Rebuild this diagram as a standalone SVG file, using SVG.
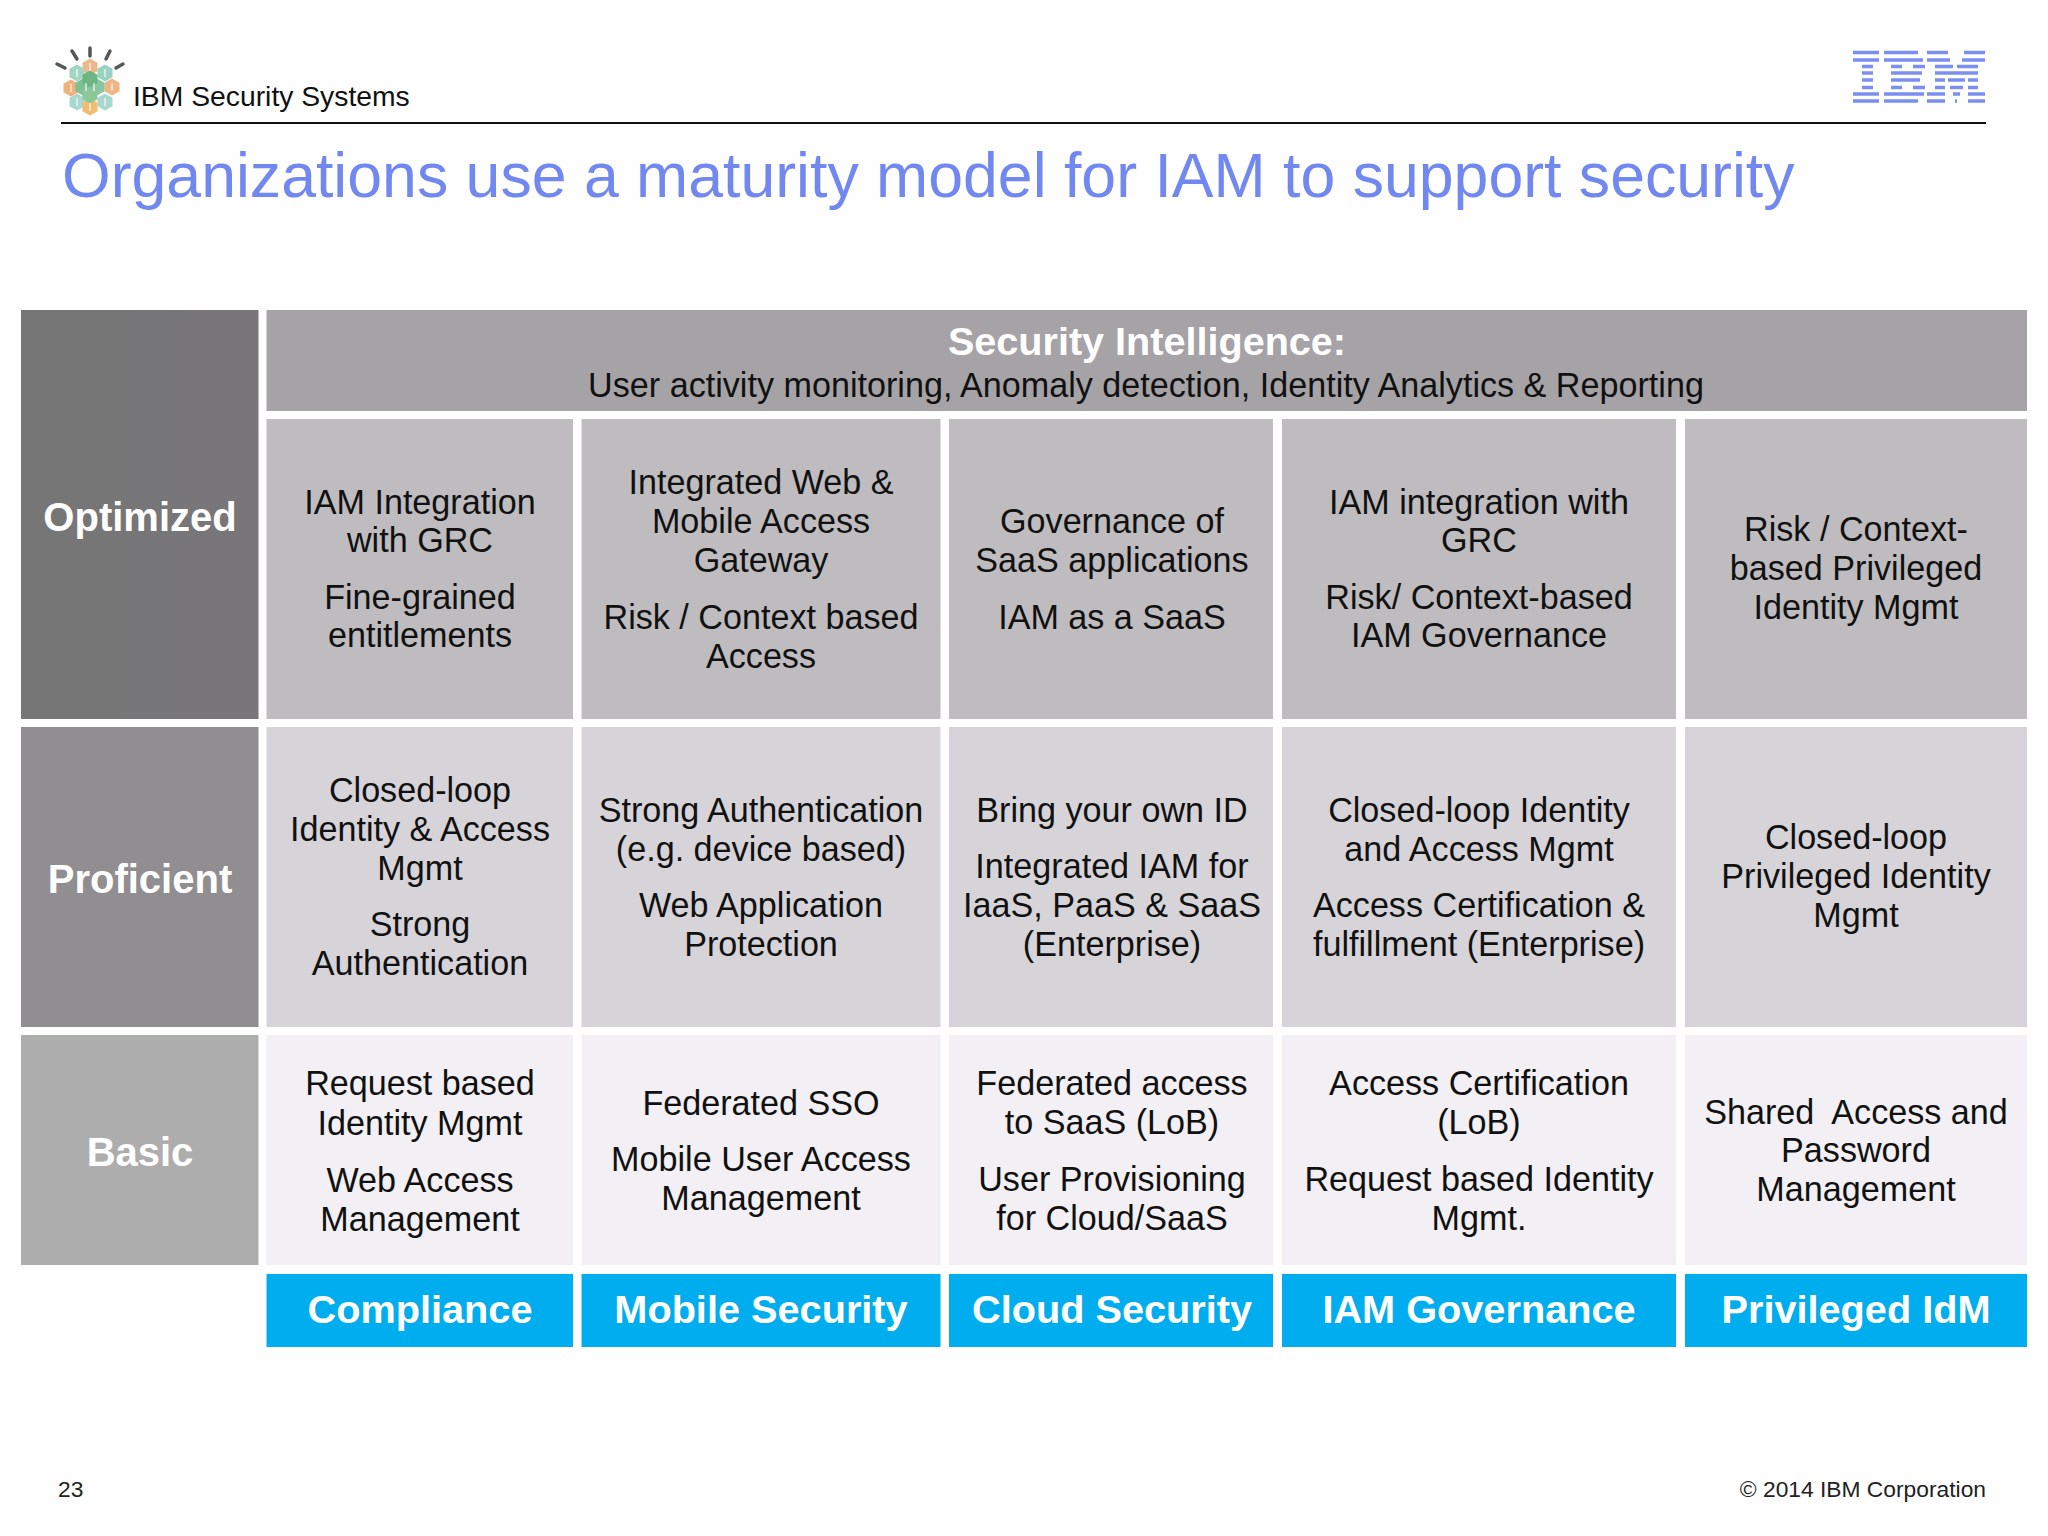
<svg xmlns="http://www.w3.org/2000/svg" width="2048" height="1536" viewBox="0 0 2048 1536">
<style>
text{font-family:"Liberation Sans",Arial,sans-serif;text-anchor:middle;fill:#111}
.t{font-size:34.150px;transform:translateY(-1px)}
.lab{font-size:40px;font-weight:bold;fill:#fff}
.foot{font-size:39.700px;font-weight:bold;fill:#fff}
.r1{fill:#bebcbf}.r2{fill:#d6d4d8}.r3{fill:#f2f0f4}.b{fill:#00aeef}
.small{font-size:22.800px;fill:#222}
</style>
<defs>
<filter id="soft" x="-10%" y="-10%" width="120%" height="120%"><feGaussianBlur stdDeviation="0.7"/></filter>
<linearGradient id="g1" x1="0" y1="0" x2="1" y2="0"><stop offset="0" stop-color="#767676"/><stop offset="1" stop-color="#787679"/></linearGradient>
<polygon id="hex" points="0,-8.500 7.500,-4.300 7.500,4.300 0,8.500 -7.500,4.300 -7.500,-4.300"/>
</defs>
<rect width="2048" height="1536" fill="#fefefe"/>
<g id="header">
<g id="security-logo" filter="url(#soft)">
<g stroke="#55585a" stroke-width="3.500" stroke-linecap="round">
<path d="M90 48V56M72 51L77 59M110 51L106 59M57 64L65 68M123 64L116 68"/>
</g>
<use href="#hex" x="90" y="67" fill="#eeb98a"/>
<use href="#hex" x="77" y="73" fill="#a3d6c2"/>
<use href="#hex" x="105" y="73" fill="#98d2c2"/>
<use href="#hex" x="71" y="88" fill="#efb27a"/>
<use href="#hex" x="112" y="87" fill="#efb583"/>
<use href="#hex" x="77" y="102" fill="#a8d8d0"/>
<use href="#hex" x="105" y="102" fill="#a8d8d0"/>
<use href="#hex" x="90" y="107" fill="#f2bc70"/>
<use href="#hex" x="83" y="87" fill="#7cc096"/>
<use href="#hex" x="97" y="87" fill="#86c6a0"/>
<use href="#hex" x="90" y="79" fill="#6cb684"/>
<use href="#hex" x="90" y="95" fill="#8cc79a"/>
<path d="M90 63v8M77 69v8M105 69v8M71 84v8M112 83v8M77 98v8M105 98v8M90 103v8M86 83v8M94 83v8" stroke="#fff" stroke-opacity=".55" stroke-width="2" fill="none"/>
</g>
<text x="133" y="106" font-size="28.300" style="text-anchor:start">IBM Security Systems</text>
<path d="M1853 52.500H1879M1884 52.500H1918M1927 52.500H1948M1964 52.500H1985M1853 60H1879M1884 60H1923M1927 60H1950M1962 60H1985M1862 66.500H1873M1891 66.500H1902M1913 66.500H1925M1935 66.500H1953M1957 66.500H1978M1862 73H1873M1891 73H1922M1935 73H1978M1862 80H1873M1891 80H1920M1935 80H1945M1948 80H1965M1968 80H1978M1862 87.500H1873M1891 87.500H1902M1913 87.500H1925M1935 87.500H1945M1950 87.500H1963M1968 87.500H1978M1853 94H1879M1884 94H1924M1927 94H1945M1953 94H1960M1968 94H1985M1853 101H1879M1884 101H1918M1927 101H1945M1955 101H1957M1968 101H1985" stroke="#7b8ff0" stroke-width="3.500" fill="none" filter="url(#soft)" id="ibm-logo"/>
<path d="M61 123H1986" stroke="#111" stroke-width="2"/>
<text x="62" y="197" font-size="62.600" style="text-anchor:start;fill:#7188f0">Organizations use a maturity model for IAM to support security</text>
</g>
<g id="row-optimized"><rect x="21" y="310" width="237.500" height="409" fill="url(#g1)"/><text class="lab" x="140" y="531">Optimized</text></g>
<g id="row-proficient"><rect x="21" y="727" width="237.500" height="300" fill="#908e90"/><text class="lab" x="140" y="893">Proficient</text></g>
<g id="row-basic"><rect x="21" y="1035" width="237.500" height="230" fill="#adadad"/><text class="lab" x="140" y="1166">Basic</text></g>
<g id="security-intelligence"><rect x="266.500" y="310" width="1760.500" height="101" fill="#a5a3a6"/>
<text x="1147" y="355" font-size="39.600" font-weight="bold" style="fill:#fff">Security Intelligence:</text>
<text class="t" x="1146" y="398">User activity monitoring, Anomaly detection, Identity Analytics &amp; Reporting</text></g>

<g id="c1-optimized"><rect class="r1" x="266.500" y="419" width="306.500" height="300"/>
<text class="t" x="420" y="515">IAM Integration</text><text class="t" x="420" y="553">with GRC</text><text class="t" x="420" y="610">Fine-grained</text><text class="t" x="420" y="648">entitlements</text></g>
<g id="c2-optimized"><rect class="r1" x="581.500" y="419" width="359" height="300"/>
<text class="t" x="761" y="495">Integrated Web &amp;</text><text class="t" x="761" y="534">Mobile Access</text><text class="t" x="761" y="573">Gateway</text><text class="t" x="761" y="630">Risk / Context based</text><text class="t" x="761" y="669">Access</text></g>
<g id="c3-optimized"><rect class="r1" x="949" y="419" width="324" height="300"/>
<text class="t" x="1112" y="534">Governance of</text><text class="t" x="1112" y="573">SaaS applications</text><text class="t" x="1112" y="630">IAM as a SaaS</text></g>
<g id="c4-optimized"><rect class="r1" x="1282" y="419" width="394" height="300"/>
<text class="t" x="1479" y="515">IAM integration with</text><text class="t" x="1479" y="553">GRC</text><text class="t" x="1479" y="610">Risk/ Context-based</text><text class="t" x="1479" y="648">IAM Governance</text></g>
<g id="c5-optimized"><rect class="r1" x="1685" y="419" width="342" height="300"/>
<text class="t" x="1856" y="542">Risk / Context-</text><text class="t" x="1856" y="581">based Privileged</text><text class="t" x="1856" y="620">Identity Mgmt</text></g>

<g id="c1-proficient"><rect class="r2" x="266.500" y="727" width="306.500" height="300"/>
<text class="t" x="420" y="803">Closed-loop</text><text class="t" x="420" y="842">Identity &amp; Access</text><text class="t" x="420" y="881">Mgmt</text><text class="t" x="420" y="937">Strong</text><text class="t" x="420" y="976">Authentication</text></g>
<g id="c2-proficient"><rect class="r2" x="581.500" y="727" width="359" height="300"/>
<text class="t" x="761" y="823">Strong Authentication</text><text class="t" x="761" y="862">(e.g. device based)</text><text class="t" x="761" y="918">Web Application</text><text class="t" x="761" y="957">Protection</text></g>
<g id="c3-proficient"><rect class="r2" x="949" y="727" width="324" height="300"/>
<text class="t" x="1112" y="823">Bring your own ID</text><text class="t" x="1112" y="879">Integrated IAM for</text><text class="t" x="1112" y="918">IaaS, PaaS &amp; SaaS</text><text class="t" x="1112" y="957">(Enterprise)</text></g>
<g id="c4-proficient"><rect class="r2" x="1282" y="727" width="394" height="300"/>
<text class="t" x="1479" y="823">Closed-loop Identity</text><text class="t" x="1479" y="862">and Access Mgmt</text><text class="t" x="1479" y="918">Access Certification &amp;</text><text class="t" x="1479" y="957">fulfillment (Enterprise)</text></g>
<g id="c5-proficient"><rect class="r2" x="1685" y="727" width="342" height="300"/>
<text class="t" x="1856" y="850">Closed-loop</text><text class="t" x="1856" y="889">Privileged Identity</text><text class="t" x="1856" y="928">Mgmt</text></g>

<g id="c1-basic"><rect class="r3" x="266.500" y="1035" width="306.500" height="230"/>
<text class="t" x="420" y="1096">Request based</text><text class="t" x="420" y="1136">Identity Mgmt</text><text class="t" x="420" y="1193">Web Access</text><text class="t" x="420" y="1232">Management</text></g>
<g id="c2-basic"><rect class="r3" x="581.500" y="1035" width="359" height="230"/>
<text class="t" x="761" y="1116">Federated SSO</text><text class="t" x="761" y="1172">Mobile User Access</text><text class="t" x="761" y="1211">Management</text></g>
<g id="c3-basic"><rect class="r3" x="949" y="1035" width="324" height="230"/>
<text class="t" x="1112" y="1096">Federated access</text><text class="t" x="1112" y="1135">to SaaS (LoB)</text><text class="t" x="1112" y="1192">User Provisioning</text><text class="t" x="1112" y="1231">for Cloud/SaaS</text></g>
<g id="c4-basic"><rect class="r3" x="1282" y="1035" width="394" height="230"/>
<text class="t" x="1479" y="1096">Access Certification</text><text class="t" x="1479" y="1135">(LoB)</text><text class="t" x="1479" y="1192">Request based Identity</text><text class="t" x="1479" y="1231">Mgmt.</text></g>
<g id="c5-basic"><rect class="r3" x="1685" y="1035" width="342" height="230"/>
<text class="t" x="1856" y="1125" xml:space="preserve">Shared  Access and</text><text class="t" x="1856" y="1163">Password</text><text class="t" x="1856" y="1202">Management</text></g>

<g id="col-compliance"><rect class="b" x="266.500" y="1274" width="306.500" height="73"/><text class="foot" x="420" y="1323">Compliance</text></g>
<g id="col-mobile"><rect class="b" x="581.500" y="1274" width="359" height="73"/><text class="foot" x="761" y="1323">Mobile Security</text></g>
<g id="col-cloud"><rect class="b" x="949" y="1274" width="324" height="73"/><text class="foot" x="1112" y="1323">Cloud Security</text></g>
<g id="col-iam"><rect class="b" x="1282" y="1274" width="394" height="73"/><text class="foot" x="1479" y="1323">IAM Governance</text></g>
<g id="col-priv"><rect class="b" x="1685" y="1274" width="342" height="73"/><text class="foot" x="1856" y="1323">Privileged IdM</text></g>
<g id="footer">
<text class="small" x="58" y="1497" style="text-anchor:start">23</text>
<text class="small" x="1986" y="1497" style="text-anchor:end">© 2014 IBM Corporation</text>
</g>
</svg>
